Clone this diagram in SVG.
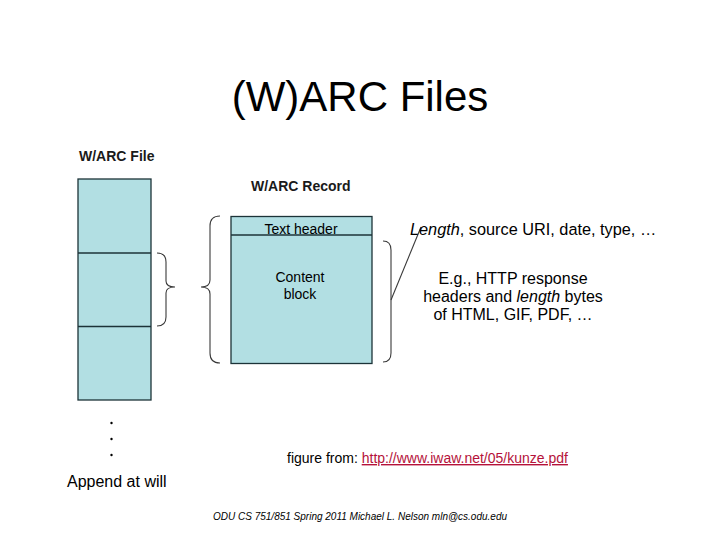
<svg xmlns="http://www.w3.org/2000/svg" width="720" height="540" viewBox="0 0 720 540">
  <style>
    .t { font-family: "Liberation Sans", Arial, sans-serif; fill: #000; }
    .b { font-weight: bold; fill: #1a1a1a; }
    .box { fill: #b2dfe3; stroke: #1c3338; stroke-width: 1.3; }
    .div { stroke: #1c3338; stroke-width: 1.6; }
    .brace { fill: none; stroke: #3a3a3a; stroke-width: 1.1; }
    .link { fill: #b5123a; text-decoration: underline; }
  </style>
  <rect width="720" height="540" fill="#ffffff"/>
  <text class="t" x="360" y="111" font-size="42" text-anchor="middle">(W)ARC Files</text>

  <g id="warc-file">
    <text class="t b" x="79" y="161" font-size="14">W/ARC File</text>
    <rect class="box" x="78" y="179" width="73" height="221"/>
    <line class="div" x1="78" y1="253" x2="151" y2="253"/>
    <line class="div" x1="78" y1="326.5" x2="151" y2="326.5"/>
    <g fill="#000">
      <circle cx="111.5" cy="423" r="1.2"/>
      <circle cx="111.5" cy="439" r="1.2"/>
      <circle cx="111.5" cy="455" r="1.2"/>
    </g>
    <text class="t" x="67" y="487" font-size="16">Append at will</text>
  </g>

  <g id="warc-record">
    <text class="t b" x="251" y="191" font-size="14">W/ARC Record</text>
    <rect class="box" x="231" y="216.5" width="141" height="147"/>
    <line class="div" x1="231" y1="235" x2="372" y2="235"/>
    <text class="t" x="301" y="234" font-size="14" text-anchor="middle">Text header</text>
    <text class="t" x="300" y="282" font-size="14" text-anchor="middle">Content</text>
    <text class="t" x="300" y="299" font-size="14" text-anchor="middle">block</text>
  </g>

  <g id="connectors">
    <path class="brace" d="M157,253 Q166,253 166,262 L166,281 Q166,287 175,287 Q166,287 166,293 L166,317 Q166,326 157,326"/>
    <path class="brace" d="M220,216 Q210,216 210,226 L210,280 Q210,287 201,287 Q210,287 210,294 L210,353 Q210,363 220,363"/>
    <path class="brace" d="M383,241 Q391,241 391,250 L391,353 Q391,362 383,362"/>
    <line class="brace" x1="391" y1="300" x2="421" y2="227"/>
  </g>

  <g id="annotations">
    <text class="t" x="410" y="235" font-size="16.3"><tspan font-style="italic">Length</tspan>, source URI, date, type, …</text>
    <text class="t" x="513" y="284" font-size="16" text-anchor="middle">E.g., HTTP response</text>
    <text class="t" x="513" y="302" font-size="16" text-anchor="middle">headers and <tspan font-style="italic">length</tspan> bytes</text>
    <text class="t" x="513" y="320" font-size="16" text-anchor="middle">of HTML, GIF, PDF, …</text>
  </g>

  <g id="footer">
    <text class="t" x="287" y="463" font-size="14">figure from: <tspan class="link">http://www.iwaw.net/05/kunze.pdf</tspan></text>
    <text class="t" x="213" y="520" font-size="10" font-style="italic">ODU CS 751/851 Spring 2011 Michael L. Nelson mln@cs.odu.edu</text>
  </g>
</svg>
